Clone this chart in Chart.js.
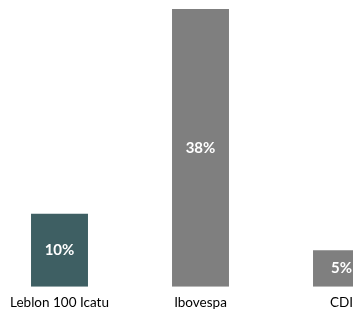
<!DOCTYPE html>
<html>
<head>
<meta charset="utf-8">
<script src="https://cdn.jsdelivr.net/npm/chart.js@4/dist/chart.umd.min.js"></script>
<style>
  html, body { margin: 0; padding: 0; background: #fff; overflow: hidden; }
  #wrap { position: relative; width: 353px; height: 311px; overflow: hidden; }
  #chart { position: absolute; left: -11px; top: 0; }
</style>
</head>
<body>
<div id="wrap"><canvas id="chart" width="423" height="311"></canvas></div>
<script>
const categories = ['Leblon 100 Icatu', 'Ibovespa', 'CDI'];
const returns = [10, 38, 5];
const barColors = ['#3E5F63', '#7F7F7F', '#7F7F7F'];

// draws the value in the middle of each bar
const barLabels = {
  id: 'barLabels',
  afterDatasetsDraw(chart) {
    const ctx = chart.ctx;
    const meta = chart.getDatasetMeta(0);
    ctx.save();
    ctx.fillStyle = '#ffffff';
    ctx.font = 'bold 15px Lato, "Open Sans", sans-serif';
    ctx.textAlign = 'center';
    ctx.textBaseline = 'middle';
    meta.data.forEach((bar, i) => {
      const y = (bar.y + bar.base) / 2;
      ctx.fillText(returns[i] + '%', bar.x, y);
    });
    ctx.restore();
  }
};

new Chart(document.getElementById('chart').getContext('2d'), {
  type: 'bar',
  data: {
    labels: categories,
    datasets: [{
      data: returns,
      backgroundColor: barColors,
      borderWidth: 0,
      categoryPercentage: 1,
      barPercentage: 0.404
    }]
  },
  options: {
    responsive: false,
    animation: false,
    layout: { padding: { top: 9, left: 0, right: 0, bottom: 0 } },
    plugins: {
      legend: { display: false },
      tooltip: { enabled: false }
    },
    scales: {
      x: {
        grid: { display: false },
        border: { display: false },
        ticks: {
          color: '#000000',
          padding: 0,
          font: { family: 'Lato, "Open Sans", sans-serif', size: 13.5 }
        }
      },
      y: {
        display: false,
        min: 0,
        max: 38
      }
    }
  },
  plugins: [barLabels]
});
</script>
</body>
</html>
